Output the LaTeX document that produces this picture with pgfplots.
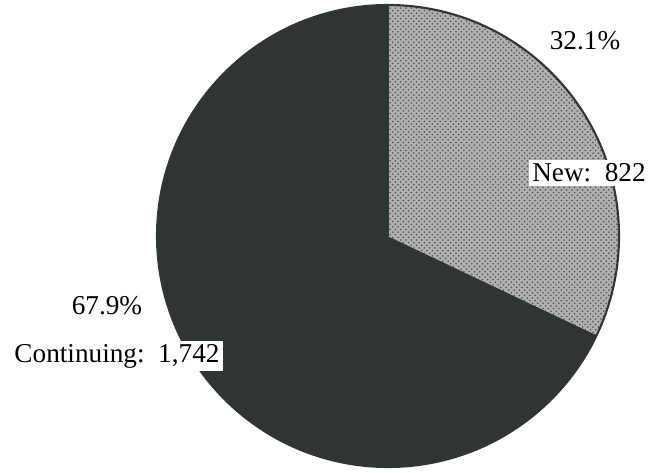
\documentclass[border=0pt]{standalone}
\usepackage{fontspec}
\setmainfont{Liberation Serif}
\usepackage{pgfplots}
\pgfplotsset{compat=1.18}
\usetikzlibrary{patterns}

\definecolor{darkslice}{HTML}{2F3535}
\definecolor{lightslice}{HTML}{B0B0B0}

% enrolment counts
\pgfmathsetmacro{\newval}{822}
\pgfmathsetmacro{\contval}{1742}
\pgfmathsetmacro{\total}{\newval+\contval}
\pgfmathsetmacro{\splitang}{90-360*(\newval/\total)}

\begin{document}
\begin{tikzpicture}
\begin{axis}[
    scale only axis,
    width=13.02cm, height=9.44cm,
    xmin=0, xmax=651, ymin=0, ymax=472,
    hide axis, clip=false,
]
% continuing slice
\fill[darkslice] (axis cs:388,236) -- ++(\splitang:4.62cm)
    arc[start angle=\splitang, end angle=-270, radius=4.62cm] -- cycle;
% new slice
\fill[lightslice] (axis cs:388,236) -- ++(90:4.62cm)
    arc[start angle=90, end angle=\splitang, radius=4.62cm] -- cycle;
\fill[pattern=crosshatch dots, pattern color=black!70] (axis cs:388,236) -- ++(90:4.62cm)
    arc[start angle=90, end angle=\splitang, radius=4.62cm] -- cycle;
\draw[darkslice, line width=1.2pt] (axis cs:388,236) circle[radius=4.62cm];
\draw[darkslice, line width=1.5pt] (axis cs:388,236) -- ++(90:4.62cm);

\node[font=\fontsize{15.5}{17}\selectfont] at (axis cs:585,431) {32.1\%};
\node[fill=white, inner sep=2pt, font=\fontsize{15.5}{17}\selectfont] at (axis cs:589,299) {New:\ \ 822};
\node[font=\fontsize{15.5}{17}\selectfont] at (axis cs:107,166) {67.9\%};
\node[fill=white, inner sep=2pt, font=\fontsize{15.5}{17}\selectfont] at (axis cs:117,116) {Continuing:\ \ 1,742};
\end{axis}
\pgfresetboundingbox
\path (0,0) rectangle (13.02cm,9.44cm);
\end{tikzpicture}
\end{document}
